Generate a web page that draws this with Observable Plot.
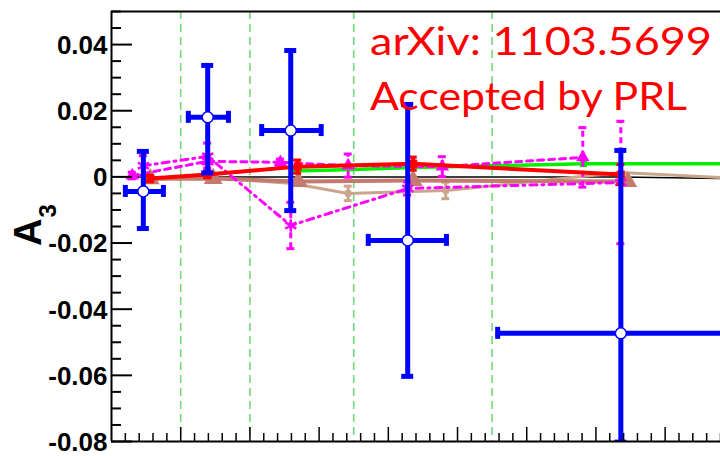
<!DOCTYPE html>
<html>
<head>
<meta charset="utf-8">
<script src="https://cdn.jsdelivr.net/npm/d3@7"></script>
<script src="https://cdn.jsdelivr.net/npm/@observablehq/plot@0.6"></script>
<style>
  body { margin: 0; background: #fff; }
  svg { display: block; }
</style>
</head>
<body>
<div id="chart"></div>
<script>
// Measured A3 per bin: centre, horizontal extent, value and error range
const dataX    = [46, 139, 259, 428, 736];
const dataXLo  = [20, 111, 217, 371, 558];
const dataXHi  = [75, 169, 303, 484, 914];
const dataA3   = [-0.0044, 0.018, 0.014, -0.0192, -0.0473];
const dataA3Hi = [0.0077, 0.0337, 0.0382, 0.0219, 0.008];
const dataA3Lo = [-0.0156, 0.0012, -0.0102, -0.0603, -0.0802];

// Bin boundaries (green dashed)
const binEdges = [100, 200, 350, 550];

// Model curves
const redX   = [56, 139, 269, 436, 736];
const redA3  = [-0.0005, 0.0007, 0.0031, 0.0040, 0.0007];
const redErr = [0.001, 0.001, 0.002, 0.002, 0.003];

const greenX  = [262, 350, 436, 682, 880];
const greenA3 = [0.0018, 0.0022, 0.0028, 0.0040, 0.0040];

const blackX  = [30, 139, 259, 428, 736, 880];
const blackA3 = [0, 0, 0, 0, 0, -0.0005];

const brownX  = [56, 147, 270, 436, 746];
const brownA3 = [-0.0006, -0.0005, -0.0014, -0.0011, -0.0014];

const tanX   = [147, 262, 342, 483, 736, 880];
const tanA3  = [-0.0003, -0.002, -0.005, -0.0041, 0.0013, -0.0002];
const tanErr = [0, 0, 0.0022, 0.0025, 0, 0];

const magDashX   = [30, 139, 244, 342, 478, 681];
const magDashA3  = [0.0004, 0.0047, 0.0044, 0.0034, 0.0031, 0.0059];
const magDashErr = [0.001, 0.002, 0.001, 0.0035, 0.003, 0.009];

const magDotX   = [46, 139, 259, 428, 736];
const magDotA3  = [0.0034, 0.0062, -0.0147, -0.0035, -0.0017];
const magDotErr = [0.003, 0.004, 0.007, 0.002, 0.0185];

// Axis ticks
const yMajor = [-0.08, -0.06, -0.04, -0.02, 0, 0.02, 0.04];
const yMinor = d3.range(-80, 51, 5).map(v => v / 1000).filter(v => !yMajor.some(m => Math.abs(m - v) < 1e-9));
const xMajor = d3.range(100, 881, 100);
const xMinor = d3.range(20, 881, 20).filter(v => v % 100 !== 0);

const zip = (xs, ys, es) => xs.map((x, i) => ({x, y: ys[i], e: es ? es[i] : 0}));
const data = dataX.map((x, i) => ({x, xlo: dataXLo[i], xhi: dataXHi[i], y: dataA3[i], lo: dataA3Lo[i], hi: dataA3Hi[i]}));
const red = zip(redX, redA3, redErr);
const green = zip(greenX, greenA3);
const black = zip(blackX, blackA3);
const brown = zip(brownX, brownA3);
const tan = zip(tanX, tanA3, tanErr);
const magDash = zip(magDashX, magDashA3, magDashErr);
const magDot = zip(magDotX, magDotA3, magDotErr);

const W = 720, H = 456, mL = 111, mT = 11, mB = 15;
const fw = W - mL, fh = H - mT - mB;

const BLUE = "#0000ff", MAG = "#ff00ff", RED = "#ff0000", GREEN = "#00f000";
const BROWN = "#c47a6e", TAN = "#c9a68c";

const errBars = (arr, color, w, dash, cap) => [
  Plot.ruleX(arr.filter(d => d.e > 0), {x: "x", y1: d => d.y - d.e, y2: d => d.y + d.e, stroke: color, strokeWidth: w, strokeDasharray: dash, clip: true}),
  Plot.ruleY(arr.filter(d => d.e > 0), {y: d => d.y + d.e, x1: "x", x2: "x", insetLeft: -cap, insetRight: -cap, stroke: color, strokeWidth: 3, clip: true}),
  Plot.ruleY(arr.filter(d => d.e > 0), {y: d => d.y - d.e, x1: "x", x2: "x", insetLeft: -cap, insetRight: -cap, stroke: color, strokeWidth: 3, clip: true})
];

const chart = Plot.plot({
  width: W, height: H,
  marginLeft: mL, marginRight: 0, marginTop: mT, marginBottom: mB,
  style: {fontFamily: "Liberation Sans, Arial, sans-serif", background: "#fff"},
  x: {domain: [0, 880], axis: null},
  y: {domain: [-0.08, 0.05]},
  marks: [
    // bin boundaries
    Plot.ruleX(binEdges, {stroke: "#77d877", strokeWidth: 1.6, strokeDasharray: "8,5"}),

    // model curves
    Plot.line(black, {x: "x", y: "y", stroke: "#000", strokeWidth: 1.5, clip: true}),
    Plot.line(tan, {x: "x", y: "y", stroke: TAN, strokeWidth: 3, clip: true}),
    ...errBars(tan, TAN, 3, null, 4),
    Plot.dot(tan.filter(d => d.e > 0), {x: "x", y: "y", symbol: "square", r: 3.5, fill: TAN}),
    Plot.line(brown, {x: "x", y: "y", stroke: BROWN, strokeWidth: 4, clip: true}),
    Plot.dot(brown, {x: "x", y: "y", symbol: "triangle", r: 7, fill: BROWN}),

    Plot.line(magDot, {x: "x", y: "y", stroke: MAG, strokeWidth: 3, strokeDasharray: "7,5,2,5", clip: true}),
    ...errBars(magDot, MAG, 3, "6,4", 4),
    Plot.dot(magDot, {x: "x", y: "y", symbol: "asterisk", r: 6, stroke: MAG, strokeWidth: 2.5}),

    Plot.line(green, {x: "x", y: "y", stroke: GREEN, strokeWidth: 3.5, clip: true}),
    Plot.dot(green.filter(d => d.x === 682), {x: "x", y: "y", symbol: "square", r: 4, fill: GREEN}),

    Plot.line(magDash, {x: "x", y: "y", stroke: MAG, strokeWidth: 3, strokeDasharray: "6,5", clip: true}),
    ...errBars(magDash, MAG, 3, "6,4", 4),
    Plot.dot(magDash, {x: "x", y: "y", symbol: "triangle", r: 5, fill: MAG}),

    Plot.line(red, {x: "x", y: "y", stroke: RED, strokeWidth: 4, clip: true}),
    ...errBars(red, RED, 4, null, 4),
    Plot.dot(red, {x: "x", y: "y", symbol: "square", r: 4.5, fill: RED}),

    // measured points
    Plot.ruleX(data, {x: "x", y1: "lo", y2: "hi", stroke: BLUE, strokeWidth: 5, clip: true}),
    Plot.ruleY(data, {y: "y", x1: "xlo", x2: "xhi", stroke: BLUE, strokeWidth: 5, clip: true}),
    Plot.ruleY(data, {y: "hi", x1: "x", x2: "x", insetLeft: -6, insetRight: -6, stroke: BLUE, strokeWidth: 5, clip: true}),
    Plot.ruleY(data, {y: "lo", x1: "x", x2: "x", insetLeft: -6, insetRight: -6, stroke: BLUE, strokeWidth: 5, clip: true}),
    Plot.ruleX(data, {x: "xlo", y1: "y", y2: "y", insetTop: -6, insetBottom: -6, stroke: BLUE, strokeWidth: 5, clip: true}),
    Plot.ruleX(data, {x: "xhi", y1: "y", y2: "y", insetTop: -6, insetBottom: -6, stroke: BLUE, strokeWidth: 5, clip: true}),
    Plot.dot(data, {x: "x", y: "y", r: 5.5, fill: "#fff", stroke: BLUE, strokeWidth: 1.5}),

    // frame: left, top, bottom
    Plot.ruleX([0], {stroke: "#000", strokeWidth: 2}),
    Plot.ruleY([0.05, -0.08], {stroke: "#000", strokeWidth: 2}),

    // inward ticks
    Plot.tickY(yMajor, {y: d => d, insetRight: fw - 21, stroke: "#000", strokeWidth: 2}),
    Plot.tickY(yMinor, {y: d => d, insetRight: fw - 10, stroke: "#000", strokeWidth: 2}),
    Plot.tickX(xMajor, {x: d => d, insetTop: fh - 14, stroke: "#000", strokeWidth: 1.5}),
    Plot.tickX(xMinor, {x: d => d, insetTop: fh - 8, stroke: "#000", strokeWidth: 1.5}),

    // y tick labels
    Plot.axisY(yMajor, {
      tickSize: 0, tickPadding: 4, fontSize: 26, fontWeight: "bold", dy: 1,
      tickFormat: d => d === 0 ? "0" : d.toFixed(2).replace("\u2212", "-"),
      label: null
    })
  ]
});

document.getElementById("chart").appendChild(chart);

const svg = d3.select(chart);
svg.selectAll('[aria-label="y-axis tick label"] text, [aria-label="y-axis tick label"]')
  .attr("fill", "#000");

// Axis title A_3
const title = svg.append("text")
  .attr("transform", "translate(41,246) rotate(-90)")
  .attr("text-anchor", "start")
  .attr("font-family", "Liberation Sans, Arial, sans-serif")
  .attr("font-weight", "bold")
  .attr("fill", "#000");
title.append("tspan").attr("font-size", 38).text("A");
title.append("tspan").attr("font-size", 24).attr("dx", 1).attr("dy", 15).text("3");

// Publication note
svg.append("text")
  .attr("x", 370).attr("y", 55)
  .attr("text-anchor", "start")
  .attr("font-family", "Lato, sans-serif").attr("font-size", 39)
  .attr("fill", "#ff0000")
  .attr("textLength", 342).attr("lengthAdjust", "spacingAndGlyphs")
  .text("arXiv: 1103.5699");
svg.append("text")
  .attr("x", 370).attr("y", 110)
  .attr("text-anchor", "start")
  .attr("font-family", "Lato, sans-serif").attr("font-size", 39)
  .attr("fill", "#ff0000")
  .attr("textLength", 317).attr("lengthAdjust", "spacingAndGlyphs")
  .text("Accepted by PRL");
</script>
</body>
</html>
